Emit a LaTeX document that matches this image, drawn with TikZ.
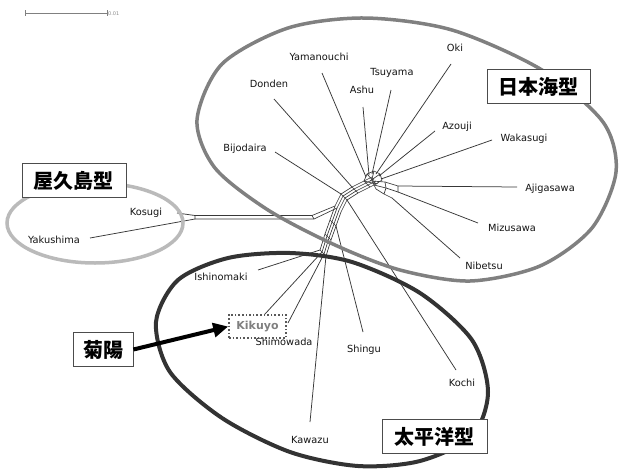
\documentclass[tikz,border=0pt]{standalone}
\usepackage{fontspec}
\setmainfont{DejaVu Sans}
\newfontfamily\cjk{Noto Sans CJK JP}
\usetikzlibrary{arrows.meta}
\begin{document}
\begin{tikzpicture}[x=1pt,y=-1pt,
  lab/.style={font=\fontsize{9.8}{11}\selectfont, text=black!92, inner sep=0pt},
  leaf/.style={draw=black!78, line width=0.75pt},
  net/.style={draw=black!78, line width=0.65pt},
  jbox/.style={draw=black!70, line width=0.8pt, fill=white, font=\cjk\bfseries\fontsize{20}{22}\selectfont, inner sep=0pt, minimum height=34pt},
]
\useasboundingbox (0,0) rectangle (624,469);
\fill[white] (0,0) rectangle (624,469);

% scale bar
\coordinate (sbL) at (25,13);
\coordinate (sbR) at (107,13);
\draw[black!50, line width=0.8pt] (sbL) -- (sbR);
\draw[black!50, line width=0.8pt] (25,10) -- (25,16) (107,10) -- (107,16);
\node[font=\fontsize{5}{6}\selectfont, text=black!45, anchor=west, inner sep=0pt] (sblab) at (108,14) {0.01};

% ---------- network core ----------
\foreach \k in {0,1,2,3}{
  \draw[net, shift={(\k*2,\k*2)}] (320,250) -- (325,234) -- (330,220) -- (335,206) -- (341,194) -- (352,187) -- (364,181) -- (372,177);
}
\foreach \p in {(320,250),(325,234),(330,220),(341,194),(352,187),(364,181)}{
  \draw[net] \p -- ++(6,6);
}
% hub cluster
\draw[net] (364,181) -- (367,174) -- (374,171) -- (380,174) -- (382,180) -- (376,184) -- cycle;
\draw[net] (367,174) -- (376,184) (374,171) -- (372,179) (380,174) -- (370,181);
% right branch
\draw[net] (372,181) -- (385,182) -- (398,186);
\draw[net] (374,185) -- (386,188) -- (398,192);
\draw[net] (376,189) -- (384,194) -- (392,198);
\draw[net] (372,181) -- (374,185) -- (376,189) (385,182) -- (386,188) -- (384,194) (398,186) -- (398,192);
% Yakushima branch
\draw[net] (335,206) -- (312,215.5) -- (195,215.5);
\draw[net] (337,208) -- (314,219) -- (195,219);
\draw[net] (312,215.5) -- (314,219) (195,215.5) -- (195,219);

% ---------- leaf connectors ----------
\coordinate (hYam) at (366,177);
\coordinate (hAsh) at (369,175);
\coordinate (hTsu) at (372,174);
\coordinate (hOki) at (376,174);
\coordinate (hAzo) at (379,176);
\coordinate (hWak) at (381,179);
\coordinate (hDon) at (352,187);
\coordinate (hBij) at (341,194);
\coordinate (hAji) at (398,186);
\coordinate (hMiz) at (398,192);
\coordinate (hNib) at (392,198);
\coordinate (hKoc) at (347,200);
\coordinate (hShg) at (336,226);
\coordinate (hIsh) at (320,250);
\coordinate (hKik) at (322,252);
\coordinate (hShm) at (324,254);
\coordinate (hKaw) at (326,256);
\coordinate (hKos) at (195,215.5);
\coordinate (hYak) at (195,219);

\coordinate (eYam) at (322,73);
\coordinate (eDon) at (274,99);
\coordinate (eAsh) at (363,107);
\coordinate (eTsu) at (391,90);
\coordinate (eOki) at (451,64);
\coordinate (eAzo) at (435,131);
\coordinate (eWak) at (492,140);
\coordinate (eBij) at (275,152);
\coordinate (eAji) at (517,187);
\coordinate (eMiz) at (478,223);
\coordinate (eNib) at (460,258);
\coordinate (eKoc) at (456,370);
\coordinate (eShg) at (363,332);
\coordinate (eKaw) at (310,422);
\coordinate (eShm) at (288,323);
\coordinate (eKik) at (265,314);
\coordinate (eIsh) at (258,270);
\coordinate (eKos) at (177,213);
\coordinate (eYak) at (90,238);

\foreach \n in {Yam,Don,Ash,Tsu,Oki,Azo,Wak,Bij,Aji,Miz,Nib,Koc,Shg,Kaw,Shm,Kik,Ish,Kos,Yak}{
  \draw[leaf] (e\n) -- (h\n);
}

% ---------- group outlines ----------
\draw[line width=3.5pt, black!50] plot[smooth cycle] coordinates {
 (197,120) (222,64) (288,28) (365,18) (452,30) (542,70) (603,122) (616,172)
 (592,228) (540,266) (470,281) (400,270) (335,245) (268,210) (215,168)};
\draw[line width=4pt, black!80] plot[smooth cycle] coordinates {
 (156,322) (178,280) (228,258) (290,253) (352,262) (420,293) (472,340) (488,392)
 (472,436) (420,461) (358,466) (290,452) (222,418) (170,372)};
\draw[line width=3.5pt, black!27] (95,223) ellipse [x radius=88pt, y radius=40pt];

% ---------- labels ----------
\node[lab] (Yamanouchi) at (319,57) {Yamanouchi};
\node[lab] (Oki) at (455,48) {Oki};
\node[lab] (Tsuyama) at (392,73) {Tsuyama};
\node[lab] (Donden) at (269,84) {Donden};
\node[lab] (Ashu) at (362,90) {Ashu};
\node[lab] (Azouji) at (457,127) {Azouji};
\node[lab] (Wakasugi) at (524,139) {Wakasugi};
\node[lab] (Bijodaira) at (245,149) {Bijodaira};
\node[lab] (Ajigasawa) at (550,189) {Ajigasawa};
\node[lab] (Mizusawa) at (512,228) {Mizusawa};
\node[lab] (Nibetsu) at (484,266) {Nibetsu};
\node[lab] (Kosugi) at (146,213) {Kosugi};
\node[lab] (Yakushima) at (54,240) {Yakushima};
\node[lab] (Ishinomaki) at (221,277) {Ishinomaki};
\node[lab] (Shimowada) at (284,342) {Shimowada};
\node[lab] (Shingu) at (364,350) {Shingu};
\node[lab] (Kochi) at (462,383) {Kochi};
\node[lab] (Kawazu) at (310,440) {Kawazu};

\node[draw=black!65, dotted, line width=1.6pt, minimum width=57pt, minimum height=23pt, inner sep=0pt,
      text=black!50, font=\bfseries\fontsize{11}{12}\selectfont] (Kikuyo) at (257.5,326.5) {Kikuyo};

% ---------- group boxes ----------
\node[jbox, minimum width=103pt] (nihonkai) at (538.5,86.5) {日本海型};
\node[jbox, minimum width=104pt] (yakushimagata) at (74,180.5) {屋久島型};
\node[jbox, minimum width=105pt] (taiheiyo) at (434.5,436.5) {太平洋型};
\node[jbox, minimum width=60pt] (kikuyoJ) at (103,349.5) {菊陽};

\draw[line width=4pt, black, -{Triangle[length=15pt,width=14pt]}] (kikuyoJ.east) -- (Kikuyo.west);
\end{tikzpicture}
\end{document}
